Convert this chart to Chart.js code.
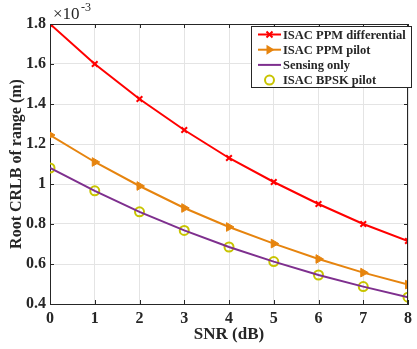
<!DOCTYPE html>
<html>
<head>
<meta charset="utf-8">
<script src="https://cdn.jsdelivr.net/npm/chart.js@4"></script>
<style>
  html, body { margin: 0; padding: 0; background: #fff; }
</style>
</head>
<body>
<canvas id="crlb-chart" width="417" height="349"></canvas>
<script>
// --- DATA (values in units of 1e-3 m) ---
const snrDb = [0, 1, 2, 3, 4, 5, 6, 7, 8];
const ppmDifferential = [1.80, 1.60, 1.425, 1.27, 1.13, 1.01, 0.90, 0.80, 0.715];
const ppmPilot = [1.245, 1.11, 0.99, 0.88, 0.785, 0.702, 0.625, 0.557, 0.497];
const sensingOnly = [1.08, 0.966, 0.861, 0.768, 0.685, 0.612, 0.545, 0.487, 0.434];
const bpskPilot = [1.08, 0.966, 0.861, 0.768, 0.685, 0.612, 0.545, 0.487, 0.434];
const yTicks = [0.4, 0.6, 0.8, 1, 1.2, 1.4, 1.6, 1.8];

// --- STYLE ---
const SERIF = '"Liberation Serif", "Times New Roman", serif';
const AXIS_COLOR = '#262626';
const RED = '#ff0000';
const ORANGE = '#e6840e';
const PURPLE = '#7e2f8e';
const YELLOW = '#c8c400';

function toPoints(xs, ys) {
    return xs.map((x, i) => ({ x: x, y: ys[i] }));
}

// draws a marker by hand for the legend
function drawMarker(ctx, style, x, y, color) {
    ctx.save();
    ctx.strokeStyle = color;
    ctx.fillStyle = color;
    ctx.lineWidth = 2;
    ctx.beginPath();
    if (style === 'cross') {
        const r = 3;
        ctx.moveTo(x - r, y - r); ctx.lineTo(x + r, y + r);
        ctx.moveTo(x - r, y + r); ctx.lineTo(x + r, y - r);
        ctx.stroke();
    } else if (style === 'tri') {
        ctx.moveTo(x + 5, y); ctx.lineTo(x - 3, y - 5); ctx.lineTo(x - 3, y + 5);
        ctx.closePath(); ctx.fill();
    } else if (style === 'circle') {
        ctx.arc(x, y, 4.5, 0, Math.PI * 2);
        ctx.stroke();
    }
    ctx.restore();
}

// --- PLUGIN: box, inner ticks, exponent label, legend ---
const matlabDecor = {
    id: 'matlabDecor',
    afterDraw(chart) {
        const { ctx, chartArea: a, scales } = chart;
        ctx.save();
        ctx.strokeStyle = AXIS_COLOR;
        ctx.lineWidth = 1;
        ctx.beginPath();
        ctx.moveTo(a.left, a.top + 0.5); ctx.lineTo(a.right, a.top + 0.5);
        ctx.moveTo(a.right - 0.5, a.top); ctx.lineTo(a.right - 0.5, a.bottom);
        // inner ticks
        snrDb.forEach(v => {
            const px = Math.round(scales.x.getPixelForValue(v)) + 0.5;
            ctx.moveTo(px, a.bottom); ctx.lineTo(px, a.bottom - 4);
            ctx.moveTo(px, a.top); ctx.lineTo(px, a.top + 4);
        });
        yTicks.forEach(v => {
            const py = Math.round(scales.y.getPixelForValue(v)) + 0.5;
            ctx.moveTo(a.left, py); ctx.lineTo(a.left + 4, py);
            ctx.moveTo(a.right, py); ctx.lineTo(a.right - 4, py);
        });
        ctx.stroke();

        // exponent label
        ctx.fillStyle = AXIS_COLOR;
        ctx.textBaseline = 'alphabetic';
        ctx.textAlign = 'left';
        ctx.font = '17px ' + SERIF;
        ctx.fillText('\u00d710', a.left + 3, 19);
        ctx.font = '12px ' + SERIF;
        ctx.fillText('-3', a.left + 31, 11);

        // legend
        const entries = [
            { label: 'ISAC PPM differential', color: RED, line: true, marker: 'cross' },
            { label: 'ISAC PPM pilot', color: ORANGE, line: true, marker: 'tri' },
            { label: 'Sensing only', color: PURPLE, line: true, marker: null },
            { label: 'ISAC BPSK pilot', color: YELLOW, line: false, marker: 'circle' }
        ];
        const lx = 251, ly = 26, lw = 160, lh = 61;
        ctx.fillStyle = '#ffffff';
        ctx.fillRect(lx, ly, lw, lh);
        ctx.strokeStyle = AXIS_COLOR;
        ctx.strokeRect(lx + 0.5, ly + 0.5, lw, lh);
        ctx.font = 'bold 12.5px ' + SERIF;
        ctx.textBaseline = 'middle';
        entries.forEach((e, i) => {
            const y = ly + 8.5 + i * 15.2;
            if (e.line) {
                ctx.strokeStyle = e.color;
                ctx.lineWidth = 2;
                ctx.beginPath();
                ctx.moveTo(258, y); ctx.lineTo(281, y);
                ctx.stroke();
            }
            if (e.marker) drawMarker(ctx, e.marker, 269.5, y, e.color);
            ctx.fillStyle = AXIS_COLOR;
            ctx.fillText(e.label, 283, y + 1);
        });
        ctx.restore();
    }
};

// --- CHART ---
new Chart(document.getElementById('crlb-chart'), {
    type: 'line',
    data: {
        datasets: [
            {
                label: 'ISAC PPM differential',
                data: toPoints(snrDb, ppmDifferential),
                borderColor: RED, backgroundColor: RED, borderWidth: 2,
                pointStyle: 'crossRot', pointRadius: 4, pointBorderWidth: 2
            },
            {
                label: 'ISAC PPM pilot',
                data: toPoints(snrDb, ppmPilot),
                borderColor: ORANGE, backgroundColor: ORANGE, borderWidth: 2,
                pointStyle: 'triangle', rotation: 90, pointRadius: 5, pointBorderWidth: 1
            },
            {
                label: 'Sensing only',
                data: toPoints(snrDb, sensingOnly),
                borderColor: PURPLE, backgroundColor: PURPLE, borderWidth: 2,
                pointRadius: 0
            },
            {
                label: 'ISAC BPSK pilot',
                data: toPoints(snrDb, bpskPilot),
                showLine: false,
                borderColor: YELLOW, backgroundColor: 'rgba(0,0,0,0)',
                pointStyle: 'circle', pointRadius: 4.5, pointBorderWidth: 2
            }
        ]
    },
    options: {
        responsive: false,
        animation: false,
        devicePixelRatio: 1,
        layout: { padding: { left: 0, top: 24, right: 4, bottom: 0 } },
        plugins: { legend: { display: false }, tooltip: { enabled: false } },
        elements: { line: { tension: 0 } },
        scales: {
            x: {
                type: 'linear', min: 0, max: 8,
                afterFit: s => { s.height = 45; },
                ticks: { stepSize: 1, color: AXIS_COLOR, padding: 5, font: { family: SERIF, size: 16, weight: 'bold' } },
                grid: { color: '#e4e4e4', drawTicks: false },
                border: { color: AXIS_COLOR },
                title: { display: true, text: 'SNR (dB)', color: AXIS_COLOR, padding: { top: 0 }, font: { family: SERIF, size: 17, weight: 'bold' } }
            },
            y: {
                min: 0.4, max: 1.8,
                afterFit: s => { s.width = 50; },
                afterBuildTicks: s => { s.ticks = yTicks.map(v => ({ value: v })); },
                ticks: {
                    color: AXIS_COLOR, padding: 4,
                    font: { family: SERIF, size: 16, weight: 'bold' },
                    callback: v => String(+v.toFixed(1))
                },
                grid: { color: '#e4e4e4', drawTicks: false },
                border: { color: AXIS_COLOR },
                title: { display: true, text: 'Root CRLB of range (m)', color: AXIS_COLOR, padding: { top: 7, bottom: 0 }, font: { family: SERIF, size: 16, weight: 'bold' } }
            }
        }
    },
    plugins: [matlabDecor]
});
</script>
</body>
</html>
